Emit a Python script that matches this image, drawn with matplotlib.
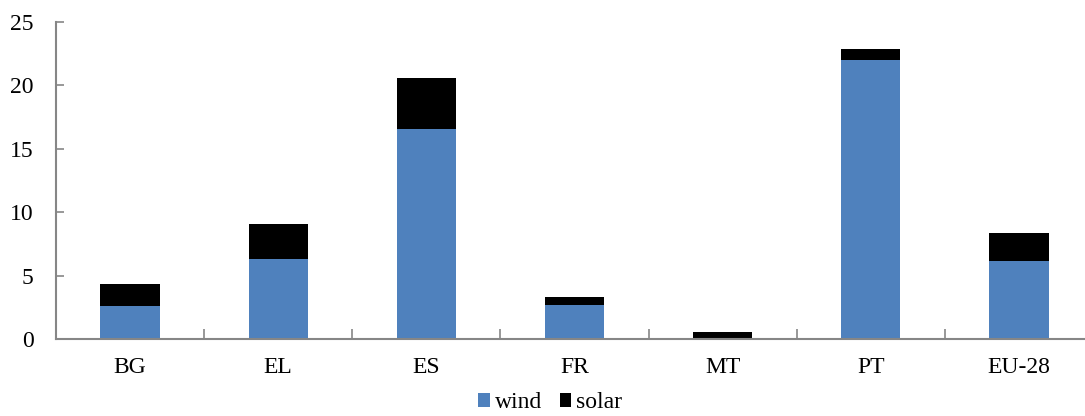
import matplotlib
matplotlib.use("Agg")
import matplotlib.pyplot as plt
import numpy as np

# share of wind and solar per country
countries = ["BG", "EL", "ES", "FR", "MT", "PT", "EU-28"]
wind = [2.6, 6.3, 16.6, 2.68, 0.0, 22.0, 6.15]
solar = [1.7, 2.75, 4.0, 0.65, 0.55, 0.85, 2.2]
yticks = [0, 5, 10, 15, 20, 25]

plt.rcParams["font.family"] = ["Liberation Serif", "DejaVu Serif"]
plt.rcParams["font.size"] = 17

axis_grey = "#868686"

fig = plt.figure(figsize=(10.85, 4.16), dpi=100)
# axes runs slightly past the right edge of the figure
ax = fig.add_axes([56 / 1085, 1 - 339 / 416, 1037 / 1085, 317 / 416])

x = np.arange(len(countries))
ax.bar(x, wind, width=0.4, color="#4F81BD", label="wind")
ax.bar(x, solar, width=0.4, bottom=wind, color="black", label="solar")

ax.set_xlim(-0.5, len(countries) - 0.5)
ax.set_ylim(0, 25)
ax.set_yticks(yticks)
ax.set_xticks(x)
ax.set_xticklabels(countries)
# category separators on the x axis
ax.set_xticks(np.arange(len(countries) + 1) - 0.5, minor=True)

for side in ["top", "right"]:
    ax.spines[side].set_visible(False)
for side in ["left", "bottom"]:
    ax.spines[side].set_color(axis_grey)
    ax.spines[side].set_linewidth(1.5)

ax.tick_params(axis="y", direction="in", length=6, color=axis_grey, width=1.2, pad=16)
ax.tick_params(axis="x", which="major", length=0, pad=13)
ax.tick_params(axis="x", which="minor", direction="in", length=7, color=axis_grey, width=1.2)

fig.legend(loc="lower center", bbox_to_anchor=(0.507, -0.045), ncol=2, frameon=False,
           handlelength=0.5, handleheight=0.5, handletextpad=0.2, columnspacing=0.75)

fig.savefig("out.png", dpi=100)
